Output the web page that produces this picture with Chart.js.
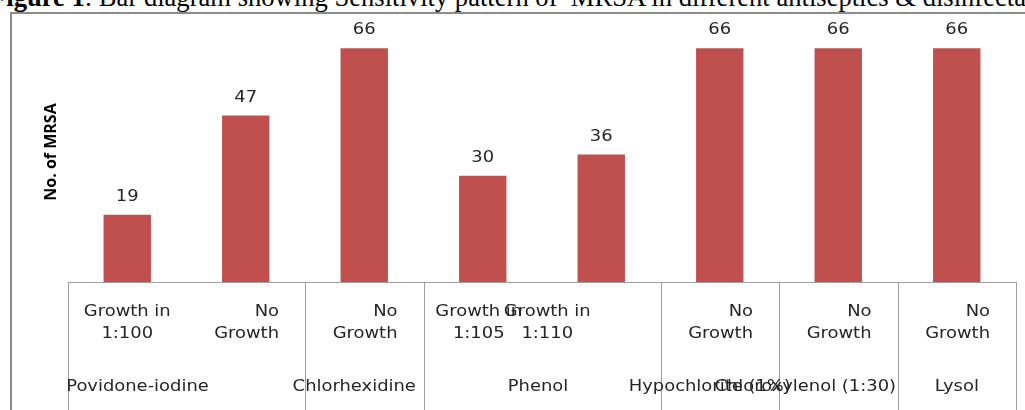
<!DOCTYPE html>
<html>
<head>
<meta charset="utf-8">
<script src="https://cdn.jsdelivr.net/npm/chart.js@4"></script>
<style>
  html, body { margin: 0; padding: 0; background: #fff; overflow: hidden; }
  #wrap { position: relative; width: 1025px; height: 410px; }
  #caption {
    position: absolute; left: -10px; top: -18px; white-space: nowrap;
    font-family: "Liberation Serif", "Times New Roman", serif; font-size: 26.6px; color: #000;
  }
  #myChart { position: absolute; left: 0; top: 0; }
</style>
</head>
<body>
<div id="wrap">
  <div id="caption"><b>Figure 1</b>: Bar diagram showing Sensitivity pattern of &nbsp;MRSA in different antiseptics &amp; disinfectants</div>
  <canvas id="myChart" width="1025" height="410"></canvas>
</div>
<script>
// level 1 labels (under each bar)
const subLabels = [
    ['Growth in', '1:100'],
    ['No', 'Growth'],
    ['No', 'Growth'],
    ['Growth in', '1:105'],
    ['Growth in', '1:110'],
    ['No', 'Growth'],
    ['No', 'Growth'],
    ['No', 'Growth']
];
// level 2 labels (agent) and how many bars each one spans
const groupNames = ['Povidone-iodine', 'Chlorhexidine', 'Phenol', 'Hypochlorite (1%)', 'Chloroxylenol (1:30)', 'Lysol'];
const groupSizes = [2, 1, 2, 1, 1, 1];
const mrsaCounts = [19, 47, 66, 30, 36, 66, 66, 66];

const labelFont = '16px "DejaVu Sans", sans-serif';
const stretch = 1.12; // the original text looks a bit wide

function wideText(ctx, text, x, y, align) {
    ctx.save();
    ctx.translate(x, y);
    ctx.scale(stretch, 1);
    ctx.textAlign = align;
    ctx.fillText(text, 0, 0);
    ctx.restore();
}

// draws the frame, the two-level category axis and the value labels
const excelAxis = {
    id: 'excelAxis',
    afterDraw(chart) {
        const ctx = chart.ctx;
        const x = chart.scales.x;
        const area = chart.chartArea;
        const step = x.getPixelForValue(1) - x.getPixelForValue(0);
        const bottom = chart.height;
        const opts = chart.options.plugins.excelAxis;

        ctx.save();
        // outer frame (left + top)
        ctx.strokeStyle = '#8c8c8c';
        ctx.lineWidth = 2;
        ctx.beginPath();
        ctx.moveTo(11, bottom);
        ctx.lineTo(11, 13);
        ctx.lineTo(chart.width, 13);
        ctx.stroke();

        // category axis line
        ctx.strokeStyle = '#a0a0a0';
        ctx.lineWidth = 1;
        ctx.beginPath();
        ctx.moveTo(area.left, area.bottom + 0.5);
        ctx.lineTo(area.right, area.bottom + 0.5);
        ctx.stroke();

        // group dividers
        let idx = 0;
        const edges = [0];
        groupSizes.forEach(n => { idx += n; edges.push(idx); });
        ctx.beginPath();
        edges.forEach(e => {
            const px = Math.round(x.getPixelForValue(e) - step / 2) + 0.5;
            ctx.moveTo(px, area.bottom);
            ctx.lineTo(px, bottom);
        });
        ctx.stroke();

        ctx.fillStyle = '#262626';
        ctx.font = labelFont;
        ctx.textBaseline = 'middle';

        // level 1 labels
        subLabels.forEach((lines, i) => {
            const c = x.getPixelForValue(i);
            const a = opts.subAlign[i];
            lines.forEach((line, j) => {
                const y = area.bottom + 30 + j * 22;
                if (a === 'right') {
                    wideText(ctx, line, c + step / 2 - 26, y, 'right');
                } else {
                    wideText(ctx, line, c + a, y, 'center');
                }
            });
        });

        // level 2 labels
        groupNames.forEach((name, g) => {
            const left = x.getPixelForValue(edges[g]) - step / 2;
            const right = x.getPixelForValue(edges[g + 1]) - step / 2;
            wideText(ctx, name, (left + right) / 2 + opts.groupShift[g], area.bottom + 105, 'center');
        });

        // value labels
        chart.getDatasetMeta(0).data.forEach((bar, i) => {
            wideText(ctx, String(mrsaCounts[i]), bar.x, bar.y - 18, 'center');
        });

        // y axis title
        ctx.translate(51, (area.top + area.bottom) / 2 - 6);
        ctx.rotate(-Math.PI / 2);
        ctx.font = 'bold 16px "Open Sans", sans-serif';
        ctx.textAlign = 'center';
        ctx.fillStyle = '#000';
        ctx.fillText('No. of MRSA', 0, 0);
        ctx.restore();
    }
};

new Chart(document.getElementById('myChart').getContext('2d'), {
    type: 'bar',
    data: {
        labels: subLabels.map(l => l.join(' ')),
        datasets: [{
            label: 'No. of MRSA',
            data: mrsaCounts,
            backgroundColor: '#C0504D',
            borderWidth: 0,
            categoryPercentage: 1,
            barPercentage: 0.4
        }]
    },
    options: {
        responsive: false,
        animation: false,
        layout: { padding: { left: 68, right: 9, top: 34, bottom: 128 } },
        scales: {
            x: { display: false },
            y: { display: false, min: 0, max: 70 }
        },
        plugins: {
            legend: { display: false },
            tooltip: { enabled: false },
            excelAxis: {
                subAlign: [0, 'right', 'right', -4, -54, 'right', 'right', 'right'],
                groupShift: [-49, -10, -4, -10, -33, 0]
            }
        }
    },
    plugins: [excelAxis]
});
</script>
</body>
</html>
